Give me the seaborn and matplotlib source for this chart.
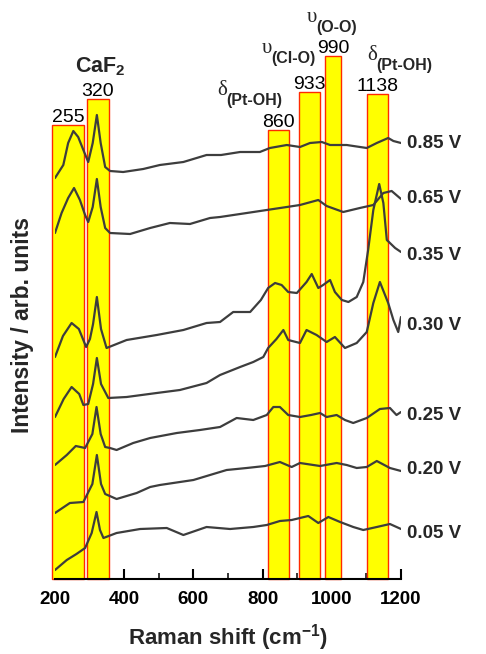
import matplotlib
matplotlib.use("Agg")
import matplotlib.pyplot as plt
import seaborn as sns
import pandas as pd
from matplotlib.ticker import MultipleLocator, FixedLocator
from matplotlib.transforms import offset_copy

# ---------------- data ----------------
potentials = ["0.85 V", "0.65 V", "0.35 V", "0.30 V", "0.25 V", "0.20 V", "0.05 V"]

shift_085 = [200, 224, 238, 253, 267, 282, 296, 309, 321, 332, 345, 359, 397, 455, 503, 571, 638, 680,
             735, 792, 821, 870, 908, 937, 971, 995, 1043, 1101, 1130, 1163, 1178, 1200]
int_085 = [401, 414, 436, 448, 442, 429, 417, 436, 464, 436, 412, 408, 407, 410, 414, 417, 424, 424,
           427, 427, 431, 434, 432, 436, 437, 434, 434, 431, 436, 441, 438, 436]

shift_065 = [200, 219, 238, 255, 272, 287, 296, 309, 321, 332, 345, 359, 417, 475, 532, 590, 648, 677,
             735, 812, 870, 908, 961, 985, 1033, 1081, 1120, 1149, 1173, 1200]
int_065 = [346, 366, 381, 391, 379, 364, 357, 372, 400, 372, 351, 346, 345, 351, 356, 355, 361, 362,
           365, 369, 372, 374, 379, 373, 367, 371, 374, 386, 388, 380]

shift_035 = [200, 223, 248, 269, 290, 301, 310, 321, 333, 349, 407, 494, 571, 638, 677, 715, 764, 795,
             816, 836, 855, 874, 899, 927, 942, 961, 975, 995, 1009, 1029, 1048, 1072, 1091, 1105,
             1120, 1137, 1149, 1159, 1168, 1183, 1200]
int_035 = [222, 243, 256, 250, 232, 240, 255, 282, 250, 231, 239, 244, 249, 256, 257, 267, 267, 279,
           291, 296, 294, 287, 286, 297, 305, 291, 294, 299, 287, 279, 277, 282, 297, 329,
           369, 395, 376, 339, 336, 331, 327]

shift_030 = [200, 225, 248, 270, 282, 296, 310, 321, 333, 354, 407, 494, 561, 638, 677, 735, 773, 802,
             816, 840, 860, 874, 908, 927, 956, 985, 1009, 1038, 1072, 1101, 1120, 1139, 1163, 1178,
             1192, 1200]
int_030 = [162, 180, 192, 185, 174, 175, 195, 221, 195, 181, 182, 186, 189, 196, 204, 212, 217, 222,
           231, 240, 249, 239, 236, 249, 244, 237, 242, 231, 236, 247, 276, 297, 276, 259,
           247, 262]

shift_025 = [200, 234, 260, 287, 308, 320, 332, 345, 359, 378, 426, 475, 552, 619, 677, 725, 773, 812,
             831, 850, 874, 908, 940, 966, 985, 1014, 1038, 1062, 1101, 1139, 1168, 1187, 1200]
int_025 = [114, 124, 133, 131, 145, 172, 145, 132, 131, 129, 136, 141, 146, 149, 152, 161, 159, 164,
           172, 172, 164, 162, 164, 166, 162, 164, 159, 156, 161, 170, 171, 164, 167]

shift_020 = [200, 243, 282, 308, 321, 333, 345, 378, 436, 475, 503, 600, 696, 754, 807, 850, 884, 908,
             966, 1014, 1043, 1072, 1101, 1130, 1168, 1200]
int_020 = [66, 76, 77, 95, 124, 95, 85, 80, 86, 92, 94, 99, 109, 111, 113, 117, 112, 116,
           113, 116, 114, 111, 112, 118, 111, 108]

shift_005 = [200, 234, 262, 287, 306, 320, 330, 340, 378, 446, 523, 571, 638, 706, 773, 812, 850, 884,
             932, 961, 990, 1024, 1062, 1091, 1130, 1168, 1200]
int_005 = [9, 19, 25, 31, 46, 67, 49, 41, 46, 50, 51, 44, 52, 50, 52, 54, 58, 59,
           63, 56, 62, 57, 52, 49, 52, 55, 50]

label_y = [436, 381, 324, 254, 164, 109, 46]

band_left = [191, 292, 815, 905, 980, 1102]
band_right = [284, 356, 876, 966, 1027, 1162]
band_top = [454, 480, 449, 487, 523, 485]
band_labels = ["255", "320", "860", "933", "990", "1138"]

assign_symbol = ["δ", "υ", "υ", "δ"]
assign_group = ["(Pt-OH)", "(Cl-O)", "(O-O)", "(Pt-OH)"]
assign_x = [668, 798, 928, 1102]
assign_y = [484, 526, 557, 519]

xticks = [200, 400, 600, 800, 1000, 1200]

# ---------------- build table ----------------
series = [(shift_085, int_085), (shift_065, int_065), (shift_035, int_035), (shift_030, int_030),
          (shift_025, int_025), (shift_020, int_020), (shift_005, int_005)]
frames = []
for pot, (xs, ys) in zip(potentials, series):
    frames.append(pd.DataFrame({"shift": xs, "intensity": ys, "potential": pot}))
df = pd.concat(frames, ignore_index=True)

# ---------------- style ----------------
sns.set_theme(style="white")
plt.rcParams["font.family"] = ["Liberation Sans", "DejaVu Sans"]
plt.rcParams["mathtext.fontset"] = "custom"
plt.rcParams["mathtext.rm"] = "Liberation Sans"
plt.rcParams["mathtext.bf"] = "Liberation Sans:bold"

W, H = 486, 654
fig = plt.figure(figsize=(W / 100, H / 100), dpi=100)
ax = fig.add_axes([55 / W, 75 / H, 346 / W, 569 / H])

# bands
ax.bar(band_left, band_top, width=[r - l for l, r in zip(band_left, band_right)], align="edge",
       color="#ffff00", edgecolor="#ff2a00", linewidth=1.0, zorder=1, clip_on=False)

# spectra
sns.lineplot(data=df, x="shift", y="intensity", units="potential", estimator=None, sort=False,
             color="#3d3d3d", linewidth=1.6, ax=ax, zorder=3)

ax.set_xlim(200, 1200)
ax.set_ylim(0, 569)

# band labels
for l, r, t, lab in zip(band_left, band_right, band_top, band_labels):
    ax.text((l + r) / 2, t + 3, lab, ha="center", va="baseline", fontsize=14, color="black",
            clip_on=False)

ax.text(332, 507, r"$\mathbf{CaF_2}$", ha="center", va="baseline", fontsize=15.5, clip_on=False)

sub_tr = offset_copy(ax.transData, fig=fig, x=9.5, y=-10, units="dots")
for s, g, x, y in zip(assign_symbol, assign_group, assign_x, assign_y):
    ax.text(x, y, s, ha="left", va="baseline", fontsize=15, family=["Liberation Serif", "DejaVu Serif"],
            clip_on=False)
    ax.text(x, y, g, ha="left", va="baseline", fontsize=11.5, fontweight="bold", transform=sub_tr,
            clip_on=False)

# potential labels
for pot, y in zip(potentials, label_y):
    ax.text(1218, y, pot, ha="left", va="center", fontsize=13.5, fontweight="bold", clip_on=False)

# axes styling
for side in ["left", "top", "right"]:
    ax.spines[side].set_visible(False)
ax.spines["bottom"].set_linewidth(1.5)
ax.spines["bottom"].set_color("black")
ax.set_yticks([])
ax.xaxis.set_major_locator(FixedLocator(xticks))
ax.xaxis.set_minor_locator(MultipleLocator(100))
ax.tick_params(axis="x", which="major", direction="in", length=7.5, width=1.5, pad=9,
               labelsize=13.5, colors="black", bottom=True)
ax.tick_params(axis="x", which="minor", direction="in", length=4.5, width=1.3, bottom=True)
ax.set_xticklabels([str(t) for t in xticks], fontweight="bold")
ax.set_xlabel(r"Raman shift (cm$^{\mathbf{-1}}$)", fontsize=16, fontweight="bold", labelpad=10)
ax.set_ylabel("")
fig.text(22 / W, 1 - 325 / H, "Intensity / arb. units", rotation=90, ha="center", va="center",
         fontsize=16.5, fontweight="bold")

fig.savefig("out.png", dpi=100)
